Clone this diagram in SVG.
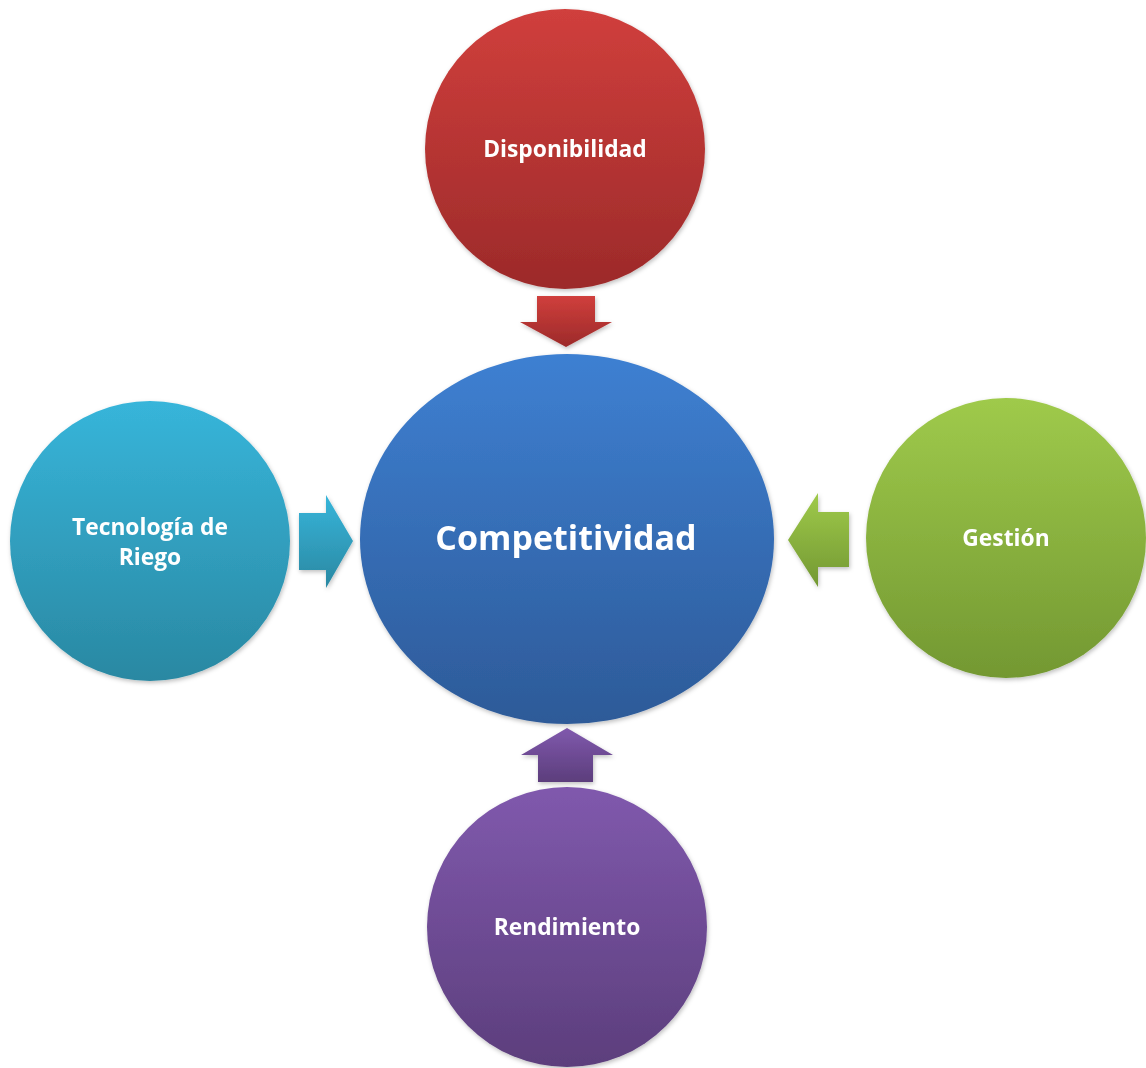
<svg xmlns="http://www.w3.org/2000/svg" width="1146" height="1068" viewBox="0 0 1146 1068">
<defs>
<linearGradient id="gRed" x1="0" y1="0" x2="0" y2="1"><stop offset="0" stop-color="#d03f3c"/><stop offset="1" stop-color="#9c2a2a"/></linearGradient>
<linearGradient id="gBlue" x1="0" y1="0" x2="0" y2="1"><stop offset="0" stop-color="#3e80d2"/><stop offset="1" stop-color="#2d5a98"/></linearGradient>
<linearGradient id="gCyan" x1="0" y1="0" x2="0" y2="1"><stop offset="0" stop-color="#37b5da"/><stop offset="1" stop-color="#2a88a2"/></linearGradient>
<linearGradient id="gGreen" x1="0" y1="0" x2="0" y2="1"><stop offset="0" stop-color="#9fca4b"/><stop offset="1" stop-color="#739832"/></linearGradient>
<linearGradient id="gPurple" x1="0" y1="0" x2="0" y2="1"><stop offset="0" stop-color="#8059ad"/><stop offset="1" stop-color="#5c3e7c"/></linearGradient>
<filter id="sh" x="-10%" y="-10%" width="130%" height="130%"><feDropShadow dx="1" dy="2" stdDeviation="2" flood-color="#000" flood-opacity="0.25"/></filter>
</defs>
<style>
.lbl{font-family:"Open Sans","Liberation Sans",sans-serif;font-weight:700;fill:#fff;text-anchor:middle}
.sm{font-size:22.8px}
.big{font-size:34px}
</style>
<rect width="1146" height="1068" fill="#fff"/>
<g id="connectors" filter="url(#sh)">
<path d="M537 296H595V322H612L566 347L520 322H537Z" fill="url(#gRed)"/>
<path d="M299 513H326V495L353 541L326 588V570H299Z" fill="url(#gCyan)"/>
<path d="M849 512H818V493L788 540L818 587V567H849Z" fill="url(#gGreen)"/>
<path d="M538 782H593V755H613L567 728L521 755H538Z" fill="url(#gPurple)"/>
</g>
<g id="center" filter="url(#sh)">
<ellipse cx="567" cy="539" rx="207" ry="185" fill="url(#gBlue)"/>
<text class="lbl big" x="566" y="550">Competitividad</text>
</g>
<g id="disponibilidad" filter="url(#sh)">
<circle cx="565" cy="149" r="140" fill="url(#gRed)"/>
<text class="lbl sm" x="565" y="157">Disponibilidad</text>
</g>
<g id="tecnologia" filter="url(#sh)">
<circle cx="150" cy="541" r="140" fill="url(#gCyan)"/>
<text class="lbl sm" x="150" y="535">Tecnología de</text>
<text class="lbl sm" x="150" y="565">Riego</text>
</g>
<g id="gestion" filter="url(#sh)">
<circle cx="1006" cy="538" r="140" fill="url(#gGreen)"/>
<text class="lbl sm" x="1006" y="546">Gestión</text>
</g>
<g id="rendimiento" filter="url(#sh)">
<circle cx="567" cy="927" r="140" fill="url(#gPurple)"/>
<text class="lbl sm" x="567" y="935">Rendimiento</text>
</g>
</svg>
